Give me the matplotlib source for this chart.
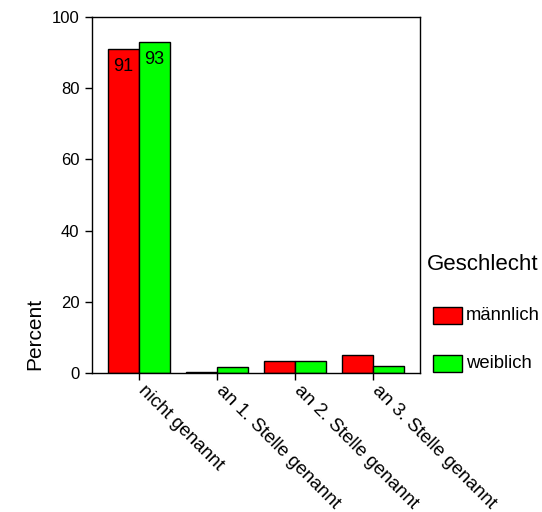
import matplotlib
matplotlib.use("Agg")
import matplotlib.pyplot as plt
import numpy as np
from matplotlib.patches import Rectangle
from matplotlib.transforms import ScaledTranslation

plt.rcParams['font.family'] = ['Liberation Sans', 'DejaVu Sans']

categories = ["nicht genannt", "an 1. Stelle genannt", "an 2. Stelle genannt", "an 3. Stelle genannt"]
maennlich = [91, 0.3, 3.4, 5.0]
weiblich = [93, 1.7, 3.4, 2.0]
series_names = ["männlich", "weiblich"]
colors = ["#ff0000", "#00ff00"]
yticks = [0, 20, 40, 60, 80, 100]

fig = plt.figure(figsize=(5.42, 5.12), dpi=100)
ax = fig.add_axes([92 / 542, 1 - 373 / 512, 328 / 542, 356 / 512])

x = np.arange(len(categories))
w = 0.4
bars_m = ax.bar(x - w / 2, maennlich, w, color=colors[0], edgecolor="black", linewidth=1)
bars_w = ax.bar(x + w / 2, weiblich, w, color=colors[1], edgecolor="black", linewidth=1)

# value labels on the first group
for bars, vals in ((bars_m, maennlich), (bars_w, weiblich)):
    b = bars[0]
    ax.text(b.get_x() + b.get_width() / 2, vals[0] - 2.5, f"{vals[0]:.0f}",
            ha="center", va="top", fontsize=13)

ax.set_xlim(-0.6, 3.6)
ax.set_ylim(0, 100)
ax.set_yticks(yticks)
ax.set_yticklabels([str(t) for t in yticks], fontsize=12)
ax.set_xticks(x)
ax.set_xticklabels(categories, rotation=-45, ha="left", va="top",
                   rotation_mode="anchor", fontsize=13.5)
ax.tick_params(axis="both", direction="out", length=5, width=1, pad=4)
ax.tick_params(axis="x", pad=3)
shift = ScaledTranslation(8 / 100, 2 / 100, fig.dpi_scale_trans)
for lbl in ax.get_xticklabels():
    lbl.set_transform(lbl.get_transform() + shift)
for s in ax.spines.values():
    s.set_linewidth(1)

fig.text(35 / 542, 1 - 334 / 512, "Percent", rotation=90, ha="center", va="center", fontsize=15)

# legend
fig.text(427 / 542, 1 - 264 / 512, "Geschlecht", ha="left", va="center", fontsize=16)
for i, (name, c) in enumerate(zip(series_names, colors)):
    yc = 315.5 + i * 47.5
    fig.patches.append(Rectangle((433 / 542, 1 - (yc + 8.5) / 512), 29 / 542, 17 / 512,
                                 transform=fig.transFigure, facecolor=c,
                                 edgecolor="black", linewidth=1))
    fig.text(466 / 542, 1 - yc / 512, name, ha="left", va="center", fontsize=13.3)

fig.savefig("out.png", dpi=100)
